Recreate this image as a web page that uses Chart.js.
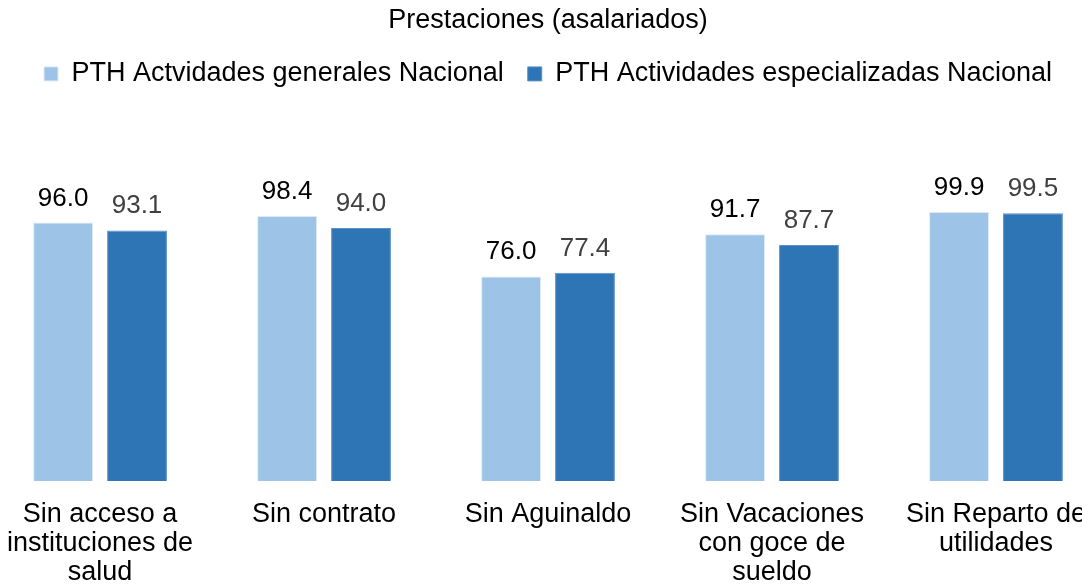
<!DOCTYPE html>
<html>
<head>
<meta charset="utf-8">
<script src="https://cdn.jsdelivr.net/npm/chart.js@4"></script>
<style>
  html, body { margin: 0; padding: 0; background: #fff; overflow: hidden; }
  #wrap { position: absolute; left: -12px; top: 0; width: 1120px; height: 586px; }
</style>
</head>
<body>
<div id="wrap"><canvas id="chart" width="1120" height="586"></canvas></div>
<script>
const chartTitle = 'Prestaciones (asalariados)';
const categories = [
  ['Sin acceso a', 'instituciones de', 'salud'],
  'Sin contrato',
  'Sin Aguinaldo',
  ['Sin Vacaciones', 'con goce de', 'sueldo'],
  ['Sin Reparto de', 'utilidades']
];
const seriesNames = ['PTH Actvidades generales Nacional', 'PTH Actividades especializadas Nacional'];
const generalesValues = [96.0, 98.4, 76.0, 91.7, 99.9];
const especializadasValues = [93.1, 94.0, 77.4, 87.7, 99.5];

const FONT = '"Liberation Sans", Arial, sans-serif';

// value labels above the bars
const valueLabels = {
  id: 'valueLabels',
  afterDatasetsDraw(chart) {
    const ctx = chart.ctx;
    const colors = ['#000000', '#404040'];
    ctx.save();
    ctx.font = '26px ' + FONT;
    ctx.textAlign = 'center';
    ctx.textBaseline = 'alphabetic';
    chart.data.datasets.forEach((ds, i) => {
      const meta = chart.getDatasetMeta(i);
      ctx.fillStyle = colors[i];
      meta.data.forEach((bar, j) => {
        ctx.fillText(ds.data[j].toFixed(1), bar.x, bar.y - 17);
      });
    });
    ctx.restore();
  }
};

new Chart(document.getElementById('chart'), {
  type: 'bar',
  data: {
    labels: categories,
    datasets: [
      { label: seriesNames[0], data: generalesValues, backgroundColor: '#9DC3E6', borderColor: '#DCEAF6', borderWidth: 1 },
      { label: seriesNames[1], data: especializadasValues, backgroundColor: '#2E75B6', borderColor: '#5B92C8', borderWidth: 1 }
    ]
  },
  options: {
    responsive: false,
    animation: false,
    categoryPercentage: 0.66,
    barPercentage: 0.81,
    layout: { padding: 0 },
    plugins: {
      title: { display: true, text: chartTitle, color: '#000', font: { family: FONT, size: 27, weight: 'normal' }, padding: { top: 4, bottom: 0 } },
      legend: {
        labels: { color: '#000', font: { family: FONT, size: 27 }, boxWidth: 14, boxHeight: 14, padding: 24 }
      },
      tooltip: { enabled: false }
    },
    scales: {
      x: {
        grid: { display: false, drawTicks: false },
        border: { display: false },
        ticks: { color: '#000', font: { family: FONT, size: 27, lineHeight: 1.08 }, padding: 19, maxRotation: 0, autoSkip: false },
        afterFit(scale) { scale.height = 105; }
      },
      y: {
        display: false,
        min: 0,
        max: 142.5
      }
    }
  },
  plugins: [valueLabels]
});
</script>
</body>
</html>
